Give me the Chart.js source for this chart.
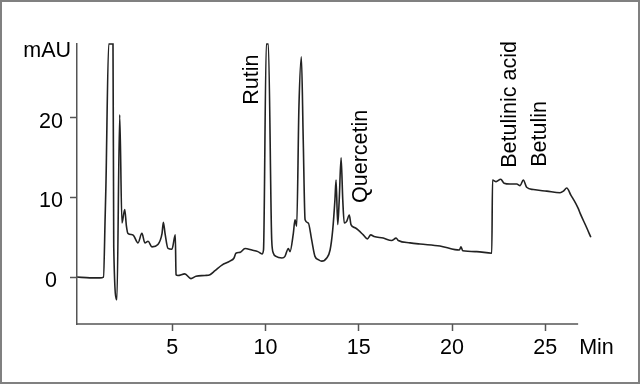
<!DOCTYPE html>
<html>
<head>
<meta charset="utf-8">
<script src="https://cdn.jsdelivr.net/npm/chart.js"></script>
<style>
	html, body { margin: 0; padding: 0; background: #fff; }
	#chromChart { display: block; }
</style>
</head>
<body>
<canvas id="chromChart" width="640" height="384"></canvas>
<script>
// retention time (min) and absorbance (mAU)
const times = [-0.1, 0.58, 1.12, 1.31, 1.40, 1.44, 1.59, 1.82, 1.86, 2.03, 2.18, 2.30, 2.45, 2.54, 2.62, 2.89, 3.16, 3.37, 3.53, 3.70,
	3.91, 4.23, 4.45, 4.52, 4.61, 4.77, 4.98, 5.16, 5.20, 5.30, 5.67, 6.00, 6.27, 6.75, 7.02, 7.29, 7.66, 8.09, 8.31, 8.41,
	8.63, 8.90, 9.27, 9.59, 9.81, 9.89, 10.04, 10.15, 10.33, 10.42, 10.56, 10.88, 11.04, 11.22, 11.31, 11.49, 11.58, 11.67, 11.79, 11.92,
	12.02, 12.12, 12.29, 12.47, 12.65, 12.83, 13.01, 13.28, 13.46, 13.60, 13.72, 13.78, 13.87, 13.95, 14.05, 14.14, 14.22, 14.35, 14.49, 14.58,
	14.80, 14.97, 15.24, 15.46, 15.64, 15.82, 16.31, 16.76, 17.00, 17.12, 17.75, 18.28, 19.35, 20.16, 20.39, 20.48, 20.57, 21.32, 22.13, 22.17,
	22.36, 22.61, 22.79, 23.11, 23.47, 23.65, 23.82, 24.00, 24.36, 25.08, 25.79, 25.97, 26.15, 26.37, 26.50, 26.77, 26.87, 27.22, 27.44];
const absorbance = [0.0, -0.1, -0.1, 0.0, 7.6, 11.4, 29.3, 29.3, 3.8, -2.85, 20.4, 6.8, 8.5, 6.4, 5.5, 5.3, 4.3, 5.5, 4.3, 4.5,
	3.8, 4.1, 5.5, 6.9, 5.5, 3.6, 3.5, 5.3, 0.3, 0.2, 0.4, -0.2, 0.1, 0.2, 0.3, 0.8, 1.5, 2.0, 2.4, 3.0,
	3.1, 3.6, 3.4, 3.2, 2.9, 3.4, 29.3, 29.3, 4.7, 3.0, 2.6, 2.4, 2.6, 3.6, 3.2, 5.5, 7.2, 6.4, 21.4, 27.7,
	17.3, 7.2, 6.8, 4.7, 2.6, 2.2, 2.0, 2.4, 3.4, 5.9, 9.7, 12.2, 6.6, 9.7, 15.0, 9.7, 6.8, 7.0, 7.8, 6.6,
	6.2, 5.9, 5.3, 4.8, 5.3, 5.1, 4.9, 4.6, 4.9, 4.6, 4.3, 4.15, 3.9, 3.45, 3.4, 3.8, 3.3, 3.2, 3.0, 12.2,
	12.0, 12.3, 11.8, 11.7, 11.7, 11.5, 12.2, 11.3, 11.0, 10.8, 10.6, 10.8, 11.2, 10.3, 9.8, 8.6, 8.0, 6.2, 5.0];

const xTicks = [5, 10, 15, 20, 25];
const yTicks = [0, 10, 20];
const xAxisEnd = 26.76; // the drawn time axis stops before the end of the trace

// peak annotations: name, time of the text baseline, value where the text starts
const peakNames = ["Rutin", "Quercetin", "Betulinic acid", "Betulin"];
const peakTimes = [9.60, 15.45, 23.43, 25.04];
const peakLabelY = [21.67, 9.31, 13.74, 13.87];

const fontFamily = "'Liberation Sans', Arial, sans-serif";
const fontSize = 21.5;

const points = times.map((t, i) => ({ x: t, y: absorbance[i] }));

const labelsPlugin = {
	id: "chromLabels",
	afterDraw(chart) {
		const ctx = chart.ctx;
		const xs = chart.scales.x;
		const ys = chart.scales.y;
		const area = chart.chartArea;
		const axisRight = xs.getPixelForValue(xAxisEnd);
		ctx.save();

		// time axis line
		ctx.strokeStyle = "#555";
		ctx.lineWidth = 1.5;
		ctx.beginPath();
		ctx.moveTo(area.left, area.bottom);
		ctx.lineTo(axisRight, area.bottom);
		ctx.stroke();

		ctx.fillStyle = "#000";
		ctx.font = fontSize + "px " + fontFamily;
		ctx.textBaseline = "alphabetic";

		// axis units
		ctx.textAlign = "right";
		ctx.fillText("mAU", area.left - 6, area.top + 12.7);
		ctx.textAlign = "left";
		ctx.fillText("Min", axisRight + 1, area.bottom + 29.5);

		// peak names, rotated
		for (var i = 0; i < peakNames.length; i++) {
			ctx.save();
			ctx.translate(xs.getPixelForValue(peakTimes[i]), ys.getPixelForValue(peakLabelY[i]));
			ctx.rotate(-Math.PI / 2);
			ctx.fillText(peakNames[i], 0, 0);
			ctx.restore();
		}

		// picture frame
		ctx.strokeStyle = "#808080";
		ctx.lineWidth = 2;
		ctx.strokeRect(1, 1, chart.width - 2, chart.height - 2);
		ctx.restore();
	}
};

const ctx = document.getElementById("chromChart").getContext("2d");

const chromChart = new Chart(ctx, {
	type: "line",
	data: {
		datasets: [{
			data: points,
			borderColor: "#222",
			borderWidth: 1.6,
			pointRadius: 0,
			cubicInterpolationMode: "monotone",
			fill: false,
			clip: false,
		}, ],
	},
	options: {
		responsive: false,
		animation: false,
		events: [],
		layout: {
			padding: { left: 0, top: 44, right: 49, bottom: 0 },
		},
		plugins: {
			legend: { display: false },
			tooltip: { enabled: false },
		},
		scales: {
			x: {
				type: "linear",
				min: -0.11,
				max: 27.45,
				afterBuildTicks: scale => {
					scale.ticks = xTicks.map(v => ({ value: v }));
				},
				afterFit: scale => {
					scale.height = 60;
				},
				grid: {
					drawOnChartArea: false,
					drawTicks: true,
					tickLength: 7,
					tickWidth: 1.5,
					tickColor: "#555",
				},
				border: { display: false },
				ticks: {
					color: "#000",
					padding: 4,
					maxRotation: 0,
					font: { family: fontFamily, size: fontSize },
				},
			},
			y: {
				type: "linear",
				min: -5.9,
				max: 29.3,
				afterBuildTicks: scale => {
					scale.ticks = yTicks.map(v => ({ value: v }));
				},
				afterFit: scale => {
					scale.width = 77;
				},
				grid: {
					drawOnChartArea: false,
					drawTicks: true,
					tickLength: 7,
					tickWidth: 1.5,
					tickColor: "#555",
				},
				border: { display: true, color: "#555", width: 1.5 },
				ticks: {
					color: "#000",
					padding: 7,
					crossAlign: "center",
					labelOffset: 4,
					font: { family: fontFamily, size: fontSize },
				},
			},
		},
	},
	plugins: [labelsPlugin],
});
</script>
</body>
</html>
